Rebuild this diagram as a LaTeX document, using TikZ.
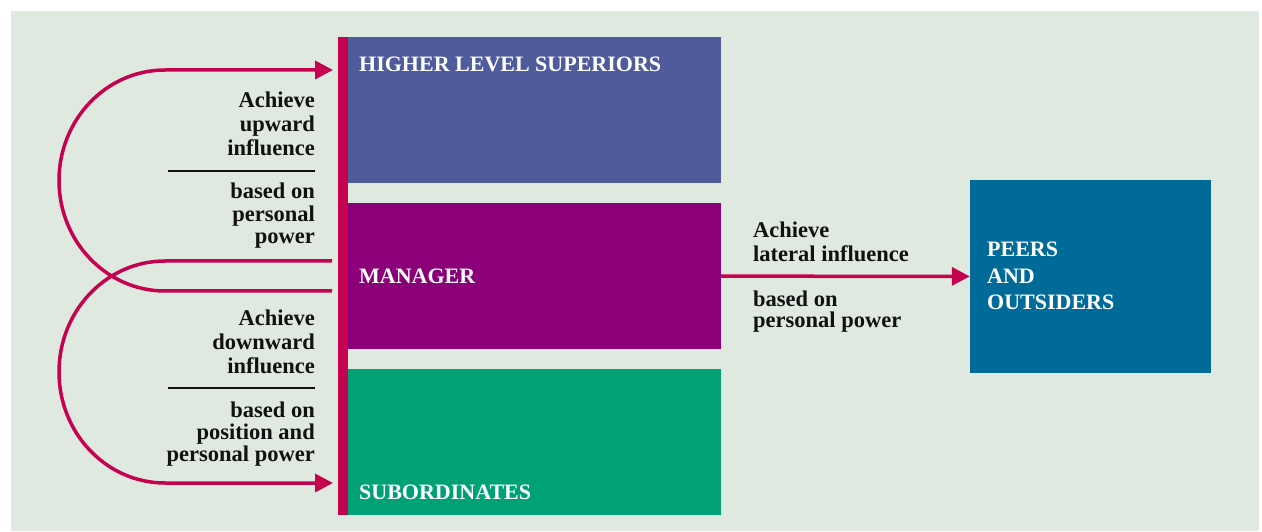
\documentclass[tikz,border=0pt]{standalone}
\usepackage{fontspec}
\setmainfont{Liberation Serif}
\usetikzlibrary{arrows.meta,positioning}
\definecolor{paper}{HTML}{DFE9DF}
\definecolor{link}{HTML}{C4024F}
\definecolor{upper}{HTML}{4F5B9B}
\definecolor{middle}{HTML}{8B0079}
\definecolor{lower}{HTML}{00A174}
\definecolor{side}{HTML}{006B99}
\definecolor{ink}{HTML}{111111}
\tikzset{
  every node/.style={font=\fontsize{22.5}{24}\selectfont\bfseries,text=ink,inner sep=0pt},
  level/.style={fill=#1,minimum width=373pt,minimum height=146pt},
  boxtext/.style={text=white,anchor=west,font=\fontsize{22}{24}\selectfont\bfseries},
  sidetext/.style={align=right,anchor=east},
  flow/.style={-{Triangle[length=18pt,width=18pt]},line width=3.5pt,draw=link},
  rule/.style={line width=2.5pt,draw=ink},
}
\begin{document}
\begin{tikzpicture}[x=1pt,y=1pt]
  \useasboundingbox (0,0) rectangle (1262,531);
  \fill[paper] (11,0) rectangle (1259,520);

  % the three levels and the bar
  \node[level=upper] (hls) at (534.5,421) {};
  \node[level=middle] (mgr) at (534.5,255) {};
  \node[level=lower] (sub) at (534.5,89) {};
  \node[fill=link,minimum width=10pt,minimum height=478pt] (bar) at (343,255) {};
  \node[fill=side,minimum width=241pt,minimum height=193pt] (peers) at (1090.5,254.5) {};

  \node[boxtext] (hlstext) at (359,467) {HIGHER LEVEL SUPERIORS};
  \node[boxtext] (mgrtext) at (359,255) {MANAGER};
  \node[boxtext] (subtext) at (359,39) {SUBORDINATES};
  \node[boxtext,align=left,font=\fontsize{22}{26.5}\selectfont\bfseries] (peerstext) at (987,255) {PEERS\\AND\\OUTSIDERS};

  % loops
  \coordinate (upfrom) at (332,240);
  \coordinate (upto) at (333,461);
  \coordinate (downfrom) at (332,270);
  \coordinate (downto) at (333,48);
  \draw[flow] (upfrom) -- ++(-167,0) arc[start angle=270,end angle=90,x radius=106,y radius=110.5] -- (upto);
  \draw[flow] (downfrom) -- ++(-167,0) arc[start angle=90,end angle=270,x radius=106,y radius=111] -- (downto);
  \draw[flow] (mgr) -- (peers);

  % labels
  \node[sidetext] (uptop) at (315,407) {Achieve\\upward\\influence};
  \node[sidetext,font=\fontsize{22.5}{22.5}\selectfont\bfseries] (upbase) at (315,315) {based on\\personal\\power};
  \draw[rule] (168,360) -- (315,360);
  \node[sidetext] (downtop) at (315,189) {Achieve\\downward\\influence};
  \node[sidetext,font=\fontsize{22.5}{22}\selectfont\bfseries] (downbase) at (315,97) {based on\\position and\\personal power};
  \draw[rule] (168,143) -- (315,143);
  \node[align=left,anchor=west] (lattop) at (753,289) {Achieve\\lateral influence};
  \node[align=left,anchor=west,font=\fontsize{22.5}{21.5}\selectfont\bfseries] (latbase) at (753,219.5) {based on\\personal power};
\end{tikzpicture}
\end{document}
